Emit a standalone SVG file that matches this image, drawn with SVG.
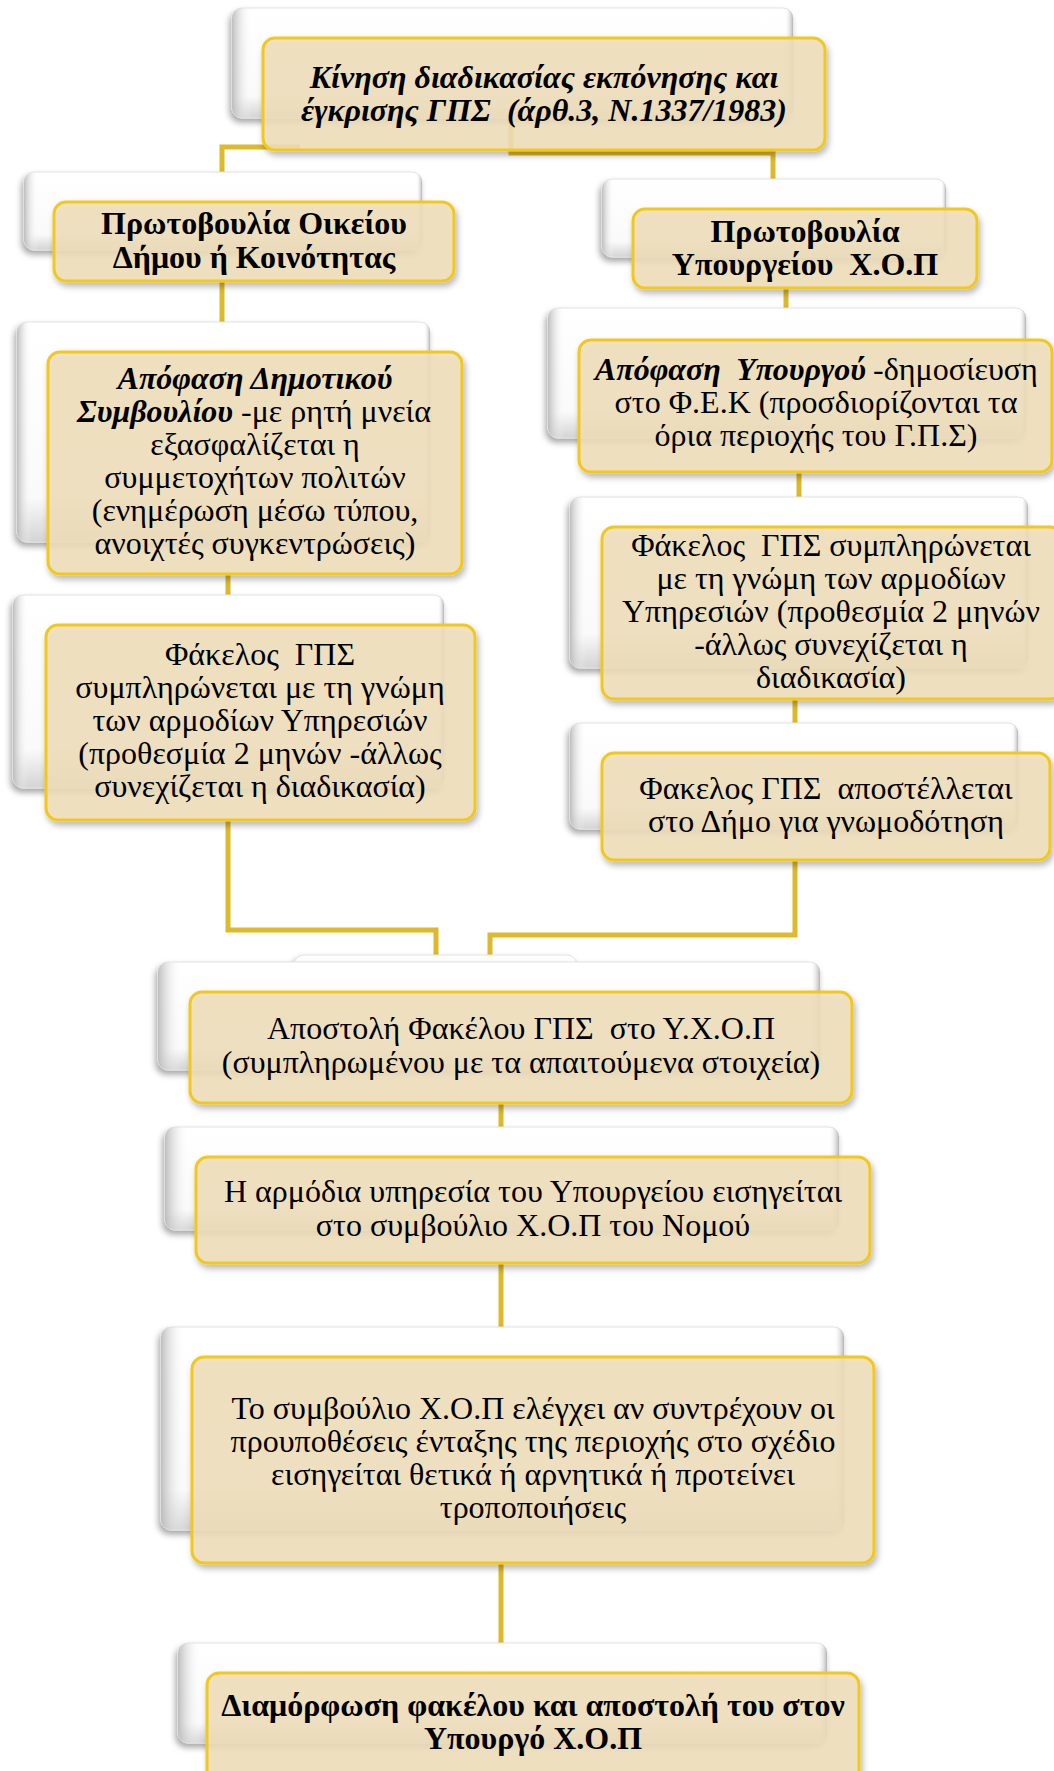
<svg xmlns="http://www.w3.org/2000/svg" width="1054" height="1771" viewBox="0 0 1054 1771">
<defs>
<linearGradient id="wv" x1="0" y1="0" x2="0" y2="1">
<stop offset="0" stop-color="#ffffff"/>
<stop offset="0.8" stop-color="#fafafa"/>
<stop offset="1" stop-color="#d4d4d4"/>
</linearGradient>
<linearGradient id="wh" x1="0" y1="0" x2="1" y2="0">
<stop offset="0" stop-color="#b8b8b8" stop-opacity="0.9"/>
<stop offset="0.035" stop-color="#ffffff" stop-opacity="0"/>
<stop offset="0.985" stop-color="#ffffff" stop-opacity="0"/>
<stop offset="1" stop-color="#9a9a9a" stop-opacity="0.7"/>
</linearGradient>
<filter id="sw" x="-10%" y="-10%" width="120%" height="130%">
<feDropShadow dx="-2" dy="4" stdDeviation="3" flood-color="#000" flood-opacity="0.35"/>
</filter>
<filter id="sy" x="-10%" y="-10%" width="120%" height="130%">
<feDropShadow dx="2" dy="4" stdDeviation="3" flood-color="#000" flood-opacity="0.3"/>
</filter>
</defs>
<style>
.w{fill:url(#wv);stroke:#e2e2e2;stroke-width:1;filter:url(#sw)}
.wo{fill:url(#wh)}
.y{fill:#F0E0BC;fill-opacity:0.86;stroke:#F2C81E;stroke-width:3;filter:url(#sy)}
.c{fill:none;stroke:#DDB92B;stroke-width:5;stroke-linejoin:miter}
text{font-family:"Liberation Serif","Times New Roman",serif;font-size:32px;fill:#000;text-anchor:middle}
.b{font-weight:bold}
.bi{font-weight:bold;font-style:italic}
.e{text-anchor:end}
.s{text-anchor:start}
</style>
<rect width="1054" height="1771" fill="#ffffff"/>
<g id="connectors">
<path class="c" d="M222,174 V147 H300"/>
<path class="c" d="M511,120 V153 H773 V182"/>
<path class="c" d="M222,281 V324"/>
<path class="c" d="M786,288 V310"/>
<path class="c" d="M228,574 V597"/>
<path class="c" d="M799,472 V499"/>
<path class="c" d="M795,699 V725"/>
<path class="c" d="M228,820 V930 H436 V964"/>
<path class="c" d="M795,860 V935 H490 V964"/>
<path class="c" d="M501,1103 V1129"/>
<path class="c" d="M501,1263 V1329"/>
<path class="c" d="M501,1563 V1645"/>
</g>
<g id="n1">
<rect class="w" x="232" y="8" width="561" height="110" rx="10"/>
<rect class="wo" x="232" y="8" width="561" height="110" rx="10"/>
<rect class="y" x="263" y="38" width="562" height="112" rx="12"/>
<text class="bi"><tspan x="544" y="88">Κίνηση διαδικασίας εκπόνησης και</tspan><tspan x="544" y="121">έγκρισης ΓΠΣ&#160; (άρθ.3, Ν.1337/1983)</tspan></text>
</g>
<g id="n2">
<rect class="w" x="24" y="172" width="398" height="78" rx="10"/>
<rect class="wo" x="24" y="172" width="398" height="78" rx="10"/>
<rect class="y" x="54" y="202" width="400" height="79" rx="12"/>
<text class="b"><tspan x="254" y="234">Πρωτοβουλία Οικείου</tspan><tspan x="254" y="268">Δήμου ή Κοινότητας</tspan></text>
</g>
<g id="n3">
<rect class="w" x="602" y="179" width="344" height="78" rx="10"/>
<rect class="wo" x="602" y="179" width="344" height="78" rx="10"/>
<rect class="y" x="633" y="209" width="344" height="79" rx="12"/>
<text class="b"><tspan x="805" y="242">Πρωτοβουλία</tspan><tspan x="805" y="275">Υπουργείου&#160; Χ.Ο.Π</tspan></text>
</g>
<g id="n4">
<rect class="w" x="17" y="322" width="413" height="220" rx="10"/>
<rect class="wo" x="17" y="322" width="413" height="220" rx="10"/>
<rect class="y" x="48" y="352" width="414" height="222" rx="12"/>
<text class="bi" x="255" y="389">Απόφαση Δημοτικού</text>
<text class="bi e" x="233" y="422">Συμβουλίου</text>
<text class="s" x="241" y="422">-με ρητή μνεία</text>
<text><tspan x="255" y="455">εξασφαλίζεται η</tspan><tspan x="255" y="488">συμμετοχήτων πολιτών</tspan><tspan x="255" y="521">(ενημέρωση μέσω τύπου,</tspan><tspan x="255" y="554">ανοιχτές συγκεντρώσεις)</tspan></text>
</g>
<g id="n5">
<rect class="w" x="548" y="308" width="478" height="130" rx="10"/>
<rect class="wo" x="548" y="308" width="478" height="130" rx="10"/>
<rect class="y" x="579" y="340" width="473" height="132" rx="12"/>
<text class="bi e" x="866" y="380">Απόφαση&#160; Υπουργού</text>
<text class="s" x="873" y="380">-δημοσίευση</text>
<text><tspan x="816" y="413">στο Φ.Ε.Κ (προσδιορίζονται τα</tspan><tspan x="816" y="446">όρια περιοχής του Γ.Π.Σ)</tspan></text>
</g>
<g id="n6">
<rect class="w" x="570" y="497" width="458" height="171" rx="10"/>
<rect class="wo" x="570" y="497" width="458" height="171" rx="10"/>
<rect class="y" x="602" y="527" width="460" height="172" rx="12"/>
<text><tspan x="831" y="556">Φάκελος&#160; ΓΠΣ συμπληρώνεται</tspan><tspan x="831" y="589">με τη γνώμη των αρμοδίων</tspan><tspan x="831" y="622">Υπηρεσιών (προθεσμία 2 μηνών</tspan><tspan x="831" y="655">-άλλως συνεχίζεται η</tspan><tspan x="831" y="688">διαδικασία)</tspan></text>
</g>
<g id="n7">
<rect class="w" x="13" y="595" width="431" height="193" rx="10"/>
<rect class="wo" x="13" y="595" width="431" height="193" rx="10"/>
<rect class="y" x="46" y="625" width="429" height="195" rx="12"/>
<text><tspan x="260" y="665">Φάκελος&#160; ΓΠΣ</tspan><tspan x="260" y="698">συμπληρώνεται με τη γνώμη</tspan><tspan x="260" y="731">των αρμοδίων Υπηρεσιών</tspan><tspan x="260" y="764">(προθεσμία 2 μηνών -άλλως</tspan><tspan x="260" y="797">συνεχίζεται η διαδικασία)</tspan></text>
</g>
<g id="n8">
<rect class="w" x="570" y="723" width="448" height="106" rx="10"/>
<rect class="wo" x="570" y="723" width="448" height="106" rx="10"/>
<rect class="y" x="602" y="753" width="448" height="107" rx="12"/>
<text><tspan x="826" y="799">Φακελος ΓΠΣ&#160; αποστέλλεται</tspan><tspan x="826" y="832">στο Δήμο για γνωμοδότηση</tspan></text>
</g>
<g id="n9">
<rect class="w" x="294" y="955" width="283" height="60" rx="10"/>
<rect class="w" x="158" y="962" width="662" height="108" rx="10"/>
<rect class="wo" x="158" y="962" width="662" height="108" rx="10"/>
<rect class="y" x="190" y="992" width="662" height="111" rx="12"/>
<text><tspan x="521" y="1039">Αποστολή Φακέλου ΓΠΣ&#160; στο Υ.Χ.Ο.Π</tspan><tspan x="521" y="1073">(συμπληρωμένου με τα απαιτούμενα στοιχεία)</tspan></text>
</g>
<g id="n10">
<rect class="w" x="165" y="1127" width="674" height="103" rx="10"/>
<rect class="wo" x="165" y="1127" width="674" height="103" rx="10"/>
<rect class="y" x="196" y="1157" width="674" height="106" rx="12"/>
<text><tspan x="533" y="1202">Η αρμόδια υπηρεσία του Υπουργείου εισηγείται</tspan><tspan x="533" y="1236">στο συμβούλιο Χ.Ο.Π του Νομού</tspan></text>
</g>
<g id="n11">
<rect class="w" x="161" y="1327" width="683" height="203" rx="10"/>
<rect class="wo" x="161" y="1327" width="683" height="203" rx="10"/>
<rect class="y" x="192" y="1357" width="682" height="206" rx="12"/>
<text><tspan x="533" y="1419">Το συμβούλιο Χ.Ο.Π ελέγχει αν συντρέχουν οι</tspan><tspan x="533" y="1452">προυποθέσεις ένταξης της περιοχής στο σχέδιο</tspan><tspan x="533" y="1485">εισηγείται θετικά ή αρνητικά ή προτείνει</tspan><tspan x="533" y="1518">τροποποιήσεις</tspan></text>
</g>
<g id="n12">
<rect class="w" x="178" y="1643" width="649" height="100" rx="10"/>
<rect class="wo" x="178" y="1643" width="649" height="100" rx="10"/>
<rect class="y" x="207" y="1673" width="652" height="120" rx="12"/>
<text class="b"><tspan x="533" y="1716">Διαμόρφωση φακέλου και αποστολή του στον</tspan><tspan x="533" y="1749">Υπουργό Χ.Ο.Π</tspan></text>
</g>
</svg>
